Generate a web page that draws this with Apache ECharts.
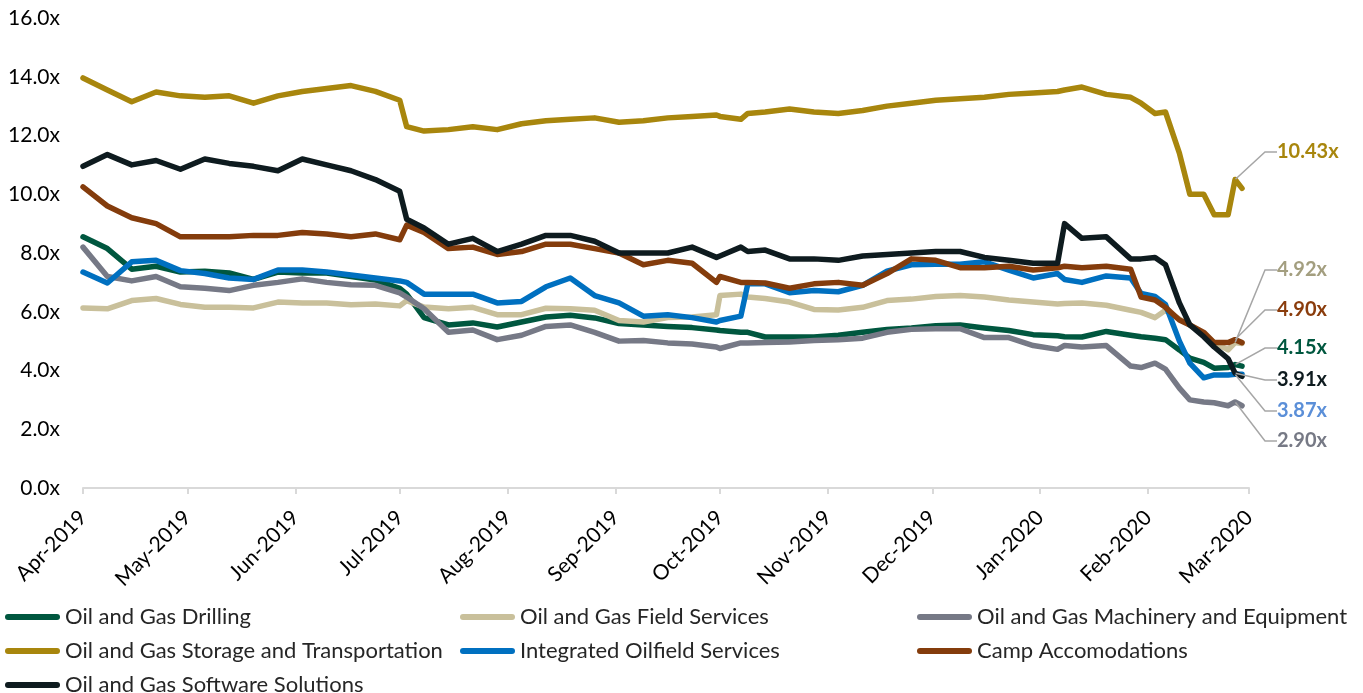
<!DOCTYPE html>
<html>
<head>
<meta charset="utf-8">
<script src="https://cdn.jsdelivr.net/npm/echarts@6/dist/echarts.min.js"></script>
<style>
  html, body { margin: 0; padding: 0; background: #fff; }
  #main { width: 1363px; height: 693px; }
</style>
</head>
<body>
<div id="main"></div>
<script>
const dates = [
  '2019-04-01', '2019-04-08', '2019-04-15', '2019-04-22', '2019-04-29',
  '2019-05-06', '2019-05-13', '2019-05-20', '2019-05-27',
  '2019-06-03', '2019-06-10', '2019-06-17', '2019-06-24',
  '2019-07-01', '2019-07-03', '2019-07-08', '2019-07-15', '2019-07-22', '2019-07-29',
  '2019-08-05', '2019-08-12', '2019-08-19', '2019-08-26',
  '2019-09-02', '2019-09-09', '2019-09-16', '2019-09-23', '2019-09-30',
  '2019-10-01', '2019-10-07', '2019-10-09', '2019-10-14', '2019-10-21', '2019-10-28',
  '2019-11-04', '2019-11-11', '2019-11-18', '2019-11-25',
  '2019-12-02', '2019-12-09', '2019-12-16', '2019-12-23', '2019-12-30',
  '2020-01-06', '2020-01-08', '2020-01-13', '2020-01-20', '2020-01-27', '2020-01-30',
  '2020-02-03', '2020-02-06', '2020-02-10', '2020-02-13', '2020-02-17',
  '2020-02-20', '2020-02-24', '2020-02-26', '2020-02-28'
];

const drilling = [8.55, 8.15, 7.45, 7.55, 7.35, 7.38, 7.32, 7.1, 7.35, 7.32, 7.32, 7.2, 7.08,
  6.8, 6.6, 5.8, 5.55, 5.62, 5.48, 5.65, 5.82, 5.88, 5.79, 5.6, 5.55, 5.5, 5.46, 5.38,
  5.36, 5.3, 5.3, 5.14, 5.14, 5.14, 5.2, 5.3, 5.4, 5.45, 5.52, 5.55, 5.45, 5.36, 5.22,
  5.18, 5.15, 5.14, 5.33, 5.2, 5.15, 5.1, 5.05, 4.7, 4.42, 4.28, 4.08, 4.1, 4.2, 4.15];

const fieldServices = [6.13, 6.1, 6.38, 6.45, 6.25, 6.15, 6.15, 6.13, 6.33, 6.3, 6.3, 6.24, 6.26,
  6.2, 6.38, 6.16, 6.1, 6.15, 5.9, 5.9, 6.12, 6.1, 6.05, 5.7, 5.65, 5.8, 5.82, 5.9,
  6.55, 6.6, 6.5, 6.45, 6.33, 6.08, 6.06, 6.15, 6.38, 6.43, 6.52, 6.55, 6.5, 6.4, 6.33,
  6.26, 6.28, 6.3, 6.22, 6.05, 5.98, 5.8, 6.05, 5.75, 5.55, 5.25, 4.95, 4.7, 4.95, 4.92];

const machinery = [8.2, 7.2, 7.05, 7.2, 6.85, 6.8, 6.72, 6.9, 7.0, 7.12, 7.0, 6.92, 6.9,
  6.64, 6.5, 6.1, 5.3, 5.38, 5.05, 5.2, 5.5, 5.55, 5.3, 5.0, 5.02, 4.94, 4.9, 4.8,
  4.75, 4.94, 4.94, 4.95, 4.97, 5.02, 5.05, 5.1, 5.3, 5.4, 5.42, 5.42, 5.12, 5.12, 4.85,
  4.72, 4.85, 4.8, 4.85, 4.15, 4.1, 4.25, 4.05, 3.4, 3.0, 2.93, 2.9, 2.8, 2.93, 2.8];

const storage = [13.96, 13.55, 13.15, 13.48, 13.35, 13.3, 13.35, 13.1, 13.35, 13.5, 13.6, 13.7, 13.5,
  13.2, 12.3, 12.15, 12.2, 12.3, 12.2, 12.4, 12.5, 12.55, 12.6, 12.45, 12.5, 12.6, 12.65, 12.7,
  12.65, 12.55, 12.75, 12.8, 12.9, 12.8, 12.75, 12.85, 13.0, 13.1, 13.2, 13.25, 13.3, 13.4, 13.45,
  13.5, 13.55, 13.65, 13.4, 13.3, 13.1, 12.75, 12.8, 11.4, 10.0, 10.0, 9.3, 9.3, 10.5, 10.2];

const integrated = [7.35, 6.98, 7.7, 7.75, 7.4, 7.3, 7.15, 7.1, 7.42, 7.42, 7.35, 7.25, 7.15,
  7.05, 7.0, 6.6, 6.6, 6.6, 6.3, 6.35, 6.85, 7.15, 6.55, 6.3, 5.85, 5.9, 5.8, 5.65,
  5.7, 5.85, 6.95, 6.95, 6.65, 6.72, 6.68, 6.9, 7.38, 7.6, 7.62, 7.62, 7.7, 7.42, 7.15,
  7.3, 7.1, 7.0, 7.22, 7.15, 6.62, 6.52, 6.25, 5.0, 4.25, 3.75, 3.85, 3.85, 3.87, 3.87];

const camp = [10.25, 9.6, 9.2, 9.0, 8.55, 8.55, 8.55, 8.6, 8.6, 8.7, 8.65, 8.55, 8.65,
  8.45, 8.95, 8.7, 8.15, 8.2, 7.95, 8.05, 8.3, 8.3, 8.15, 8.0, 7.6, 7.75, 7.65, 7.0,
  7.2, 7.0, 7.0, 6.98, 6.8, 6.95, 7.0, 6.9, 7.3, 7.8, 7.75, 7.5, 7.5, 7.55, 7.42,
  7.5, 7.55, 7.5, 7.55, 7.45, 6.5, 6.4, 6.15, 5.72, 5.55, 5.3, 4.95, 4.95, 5.05, 4.95];

const software = [10.95, 11.35, 11.0, 11.15, 10.85, 11.2, 11.05, 10.95, 10.8, 11.2, 11.0, 10.8, 10.5,
  10.1, 9.15, 8.85, 8.3, 8.5, 8.05, 8.3, 8.6, 8.6, 8.4, 8.0, 8.0, 8.0, 8.2, 7.85,
  7.9, 8.2, 8.05, 8.1, 7.8, 7.8, 7.75, 7.9, 7.95, 8.0, 8.05, 8.05, 7.85, 7.75, 7.65,
  7.65, 9.0, 8.5, 8.55, 7.8, 7.8, 7.85, 7.6, 6.3, 5.55, 5.15, 4.8, 4.4, 3.91, 3.8];

const seriesNames = [
  'Oil and Gas Drilling',
  'Oil and Gas Field Services',
  'Oil and Gas Machinery and Equipment',
  'Oil and Gas Storage and Transportation',
  'Integrated Oilfield Services',
  'Camp Accomodations',
  'Oil and Gas Software Solutions'
];
const seriesValues = [drilling, fieldServices, machinery, storage, integrated, camp, software];
const endLabels = ['4.15x', '4.92x', '2.90x', '10.43x', '3.87x', '4.90x', '3.91x'];
const labelDate = '2020-02-26';

const lineColors = ['#00573f', '#c9c09b', '#767986', '#a8860d', '#0070c0', '#843c0c', '#0e1b1f'];
const labelColors = ['#00573f', '#a39e7f', '#767985', '#a8860d', '#5b8fd8', '#8a3c0c', '#0e1b1f'];
const labelY = [348, 270, 441, 152, 411, 310, 380];

const monthNames = ['Jan', 'Feb', 'Mar', 'Apr', 'May', 'Jun', 'Jul', 'Aug', 'Sep', 'Oct', 'Nov', 'Dec'];
const font = 'Lato';

const chart = echarts.init(document.getElementById('main'));
const labelIndex = dates.indexOf(labelDate);

const series = seriesNames.map((name, i) => ({
  name: name,
  type: 'line',
  showSymbol: true,
  symbol: 'none',
  itemStyle: { color: lineColors[i] },
  lineStyle: { color: lineColors[i], width: 5.5, join: 'round', cap: 'round' },
  emphasis: { disabled: true },
  labelLine: { show: true, length2: 12, smooth: false, lineStyle: { color: '#a6a6a6', width: 1.5 } },
  labelLayout: function () {
    return { x: 1277, y: labelY[i], align: 'left', verticalAlign: 'middle' };
  },
  data: seriesValues[i].map((v, k) => {
    if (k !== labelIndex) return [dates[k], v];
    return {
      value: [dates[k], v],
      symbol: 'circle',
      symbolSize: 1,
      label: {
        show: true,
        formatter: endLabels[i],
        color: labelColors[i],
        fontWeight: 'bold',
        fontSize: 20,
        fontFamily: font
      }
    };
  })
}));

// pill-shaped legend line
const legendIcon = 'path://M3,0 L52,0 A3,3 0 0 1 52,6 L3,6 A3,3 0 0 1 3,0 Z';

function legendCol(left, names) {
  return {
    data: names,
    orient: 'vertical',
    left: left,
    top: 606,
    height: 120,
    icon: legendIcon,
    itemWidth: 55,
    itemHeight: 6,
    itemGap: 12,
    padding: 0,
    selectedMode: false,
    textStyle: { fontSize: 22, color: '#262626', fontFamily: font, lineHeight: 21 }
  };
}

const option = {
  animation: false,
  backgroundColor: '#ffffff',
  grid: { left: 83, right: 114, top: 18, bottom: 205, outerBoundsMode: 'none' },
  legend: [
    legendCol(5, [seriesNames[0], seriesNames[3], seriesNames[6]]),
    legendCol(460, [seriesNames[1], seriesNames[4]]),
    legendCol(917, [seriesNames[2], seriesNames[5]])
  ],
  xAxis: {
    type: 'time',
    min: '2019-04-01',
    max: '2020-03-01',
    minInterval: 28 * 86400000,
    maxInterval: 31 * 86400000,
    axisLine: { show: true, lineStyle: { color: '#d9d9d9', width: 2 } },
    axisTick: { show: true, length: 6, lineStyle: { color: '#d9d9d9', width: 2 } },
    splitLine: { show: false },
    axisLabel: {
      rotate: 45,
      margin: 26,
      fontSize: 21,
      color: '#000',
      fontFamily: font,
      showMinLabel: true,
      showMaxLabel: true,
      formatter: function (val) {
        const d = new Date(val);
        return monthNames[d.getMonth()] + '-' + d.getFullYear();
      }
    }
  },
  yAxis: {
    type: 'value',
    min: 0,
    max: 16,
    interval: 2,
    axisLine: { show: false },
    axisTick: { show: false },
    splitLine: { show: false },
    axisLabel: {
      margin: 23,
      fontSize: 21,
      color: '#000',
      fontFamily: font,
      formatter: v => v.toFixed(1) + 'x'
    }
  },
  series: series
};

chart.setOption(option);
</script>
</body>
</html>
